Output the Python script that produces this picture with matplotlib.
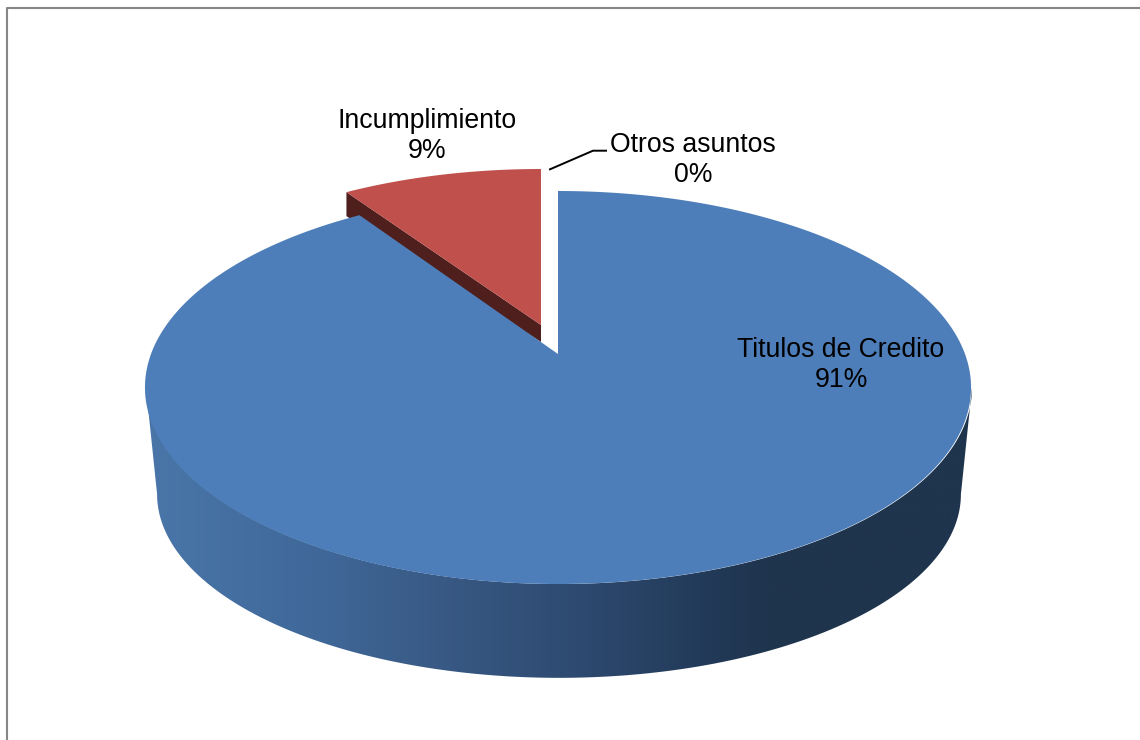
import numpy as np
import matplotlib
matplotlib.use("Agg")
import matplotlib.pyplot as plt
from matplotlib.colors import LinearSegmentedColormap
from matplotlib.patches import Polygon

categories = ["Titulos de Credito", "Incumplimiento", "Otros asuntos"]
values = [90.6, 9.4, 0.0]

plt.rcParams['font.family'] = ['Liberation Sans', 'DejaVu Sans']

# perspective of the tilted disc
K = 0.1705
RX = 407.0
RY = 190.8


def project(frac0, frac1, cx, cy, sx=1.0, sy=1.0, n=300):
    # fractions of the circle, clockwise from 12 o'clock
    a = 2 * np.pi * np.linspace(frac0, frac1, n)
    d = 1 + K * np.cos(a)
    return cx + sx * RX * np.sin(a) / d, cy - sy * RY * np.cos(a) / d


fig = plt.figure(figsize=(11.4, 7.4), dpi=100)
ax = fig.add_axes([0, 0, 1, 1])
ax.set_axis_off()

total = sum(values)
f_blue = values[0] / total
f_red = (values[0] + values[1]) / total

# red slice, pulled out of the pie
rx_, ry_ = project(f_blue, f_red, 541, 325, 0.98, 0.957)
ax.add_patch(Polygon([(541, 325), (rx_[0], ry_[0]), (rx_[0], ry_[0] + 24), (541, 342)],
                     closed=True, fc="#4e1f1d", ec="none"))
ax.add_patch(Polygon(np.column_stack([np.r_[541, rx_], np.r_[325, ry_]]),
                     closed=True, fc="#bf504c", ec="none"))

# blue side wall, the gradient runs left to right
t = np.arcsin(K) / (2 * np.pi)
x_top, y_top = project(0.25 + t, 0.75 - t, 559, 354)
x_bot, y_bot = project(0.25 + t, 0.75 - t, 559, 463, 0.973, 0.934)
side = Polygon(np.column_stack([np.r_[x_top, x_bot[::-1]], np.r_[y_top, y_bot[::-1]]]),
               closed=True, fc="none", ec="none")
ax.add_patch(side)
cmap = LinearSegmentedColormap.from_list("side", [
    (0.0, "#4a76a9"), (0.2, "#40699a"), (0.33, "#3a5c88"), (0.5, "#2f4c73"),
    (0.68, "#223a58"), (0.75, "#1f344d"), (1.0, "#1f344d")])
img = ax.imshow(np.linspace(0, 1, 500).reshape(1, -1), cmap=cmap, aspect="auto",
                extent=(140, 980, 690, 340), zorder=1)
img.set_clip_path(side)

# blue top face
bx, by = project(0, f_blue, 558, 354)
ax.add_patch(Polygon(np.column_stack([np.r_[558, bx], np.r_[354, by]]),
                     closed=True, fc="#4e7eb9", ec="none", zorder=2))

# labels
label_pos = [(841, 365), (427, 135.5), (693, 159.5)]
for name, v, (lx, ly) in zip(categories, values, label_pos):
    ax.text(lx, ly, "%s\n%d%%" % (name, round(v)), ha="center", va="center",
            fontsize=19.2, color="black", linespacing=1.2, zorder=3)
ax.plot([550, 593, 606], [169.3, 150.7, 150.7], color="black", lw=1.4, zorder=3)

# chart frame, only left and top are in the crop
ax.plot([6.5, 6.5, 1140], [740, 7.5, 7.5], color="#868686", lw=1.5, zorder=3)

ax.set_xlim(0, 1140)
ax.set_ylim(740, 0)
fig.savefig("out.png", dpi=100, facecolor="white")
